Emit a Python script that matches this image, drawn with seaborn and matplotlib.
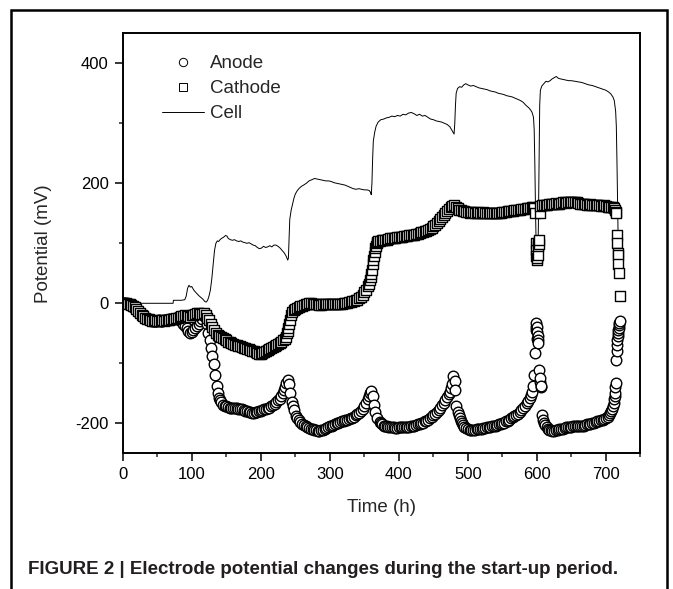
import numpy as np
import pandas as pd
import seaborn as sns
import matplotlib.pyplot as plt
from matplotlib.lines import Line2D
from matplotlib.patches import Rectangle
from matplotlib.ticker import MultipleLocator

sns.set_style("ticks")
plt.rcParams['font.family'] = ['Liberation Sans', 'DejaVu Sans']
plt.rcParams['axes.unicode_minus'] = False

# ---- data ----
anode_t = [0, 5, 10, 15, 20, 25, 30, 35, 40, 45, 50, 55, 60, 65, 70, 75, 80, 85, 90, 95,
           98, 100, 105, 110, 115, 118, 120, 122, 124, 126, 128, 130, 132, 134, 136, 138, 140,
           143, 146, 150, 155, 160, 165, 170, 175, 180, 185, 190, 195, 200, 205, 210, 215,
           220, 225, 230, 234, 237, 239, 241, 243, 245, 248, 251, 255, 260, 265, 270, 275,
           280, 285, 290, 295, 300, 305, 310, 315, 320, 325, 330, 335, 340, 345, 350, 355,
           358, 360, 362, 364, 366, 369, 372, 376, 380, 385, 390, 395, 400, 405, 410, 415,
           420, 425, 430, 435, 440, 445, 450, 455, 460, 465, 470, 474, 477, 479, 481, 482,
           483, 485, 488, 491, 495, 500, 505, 510, 515, 520, 525, 530, 535, 540, 545, 550,
           555, 560, 565, 570, 575, 580, 585, 590, 593, 595, 596, 597, 598, 599, 600, 601,
           602, 603, 604, 606, 607, 609, 612, 616, 620, 625, 630, 635, 640, 645, 650, 655,
           660, 665, 670, 675, 680, 685, 690, 695, 700, 705, 708, 710, 712, 713, 714, 715,
           716, 717, 718, 719, 720]
anode_mv = [0, 0, -2, -6, -11, -17, -22, -26, -28, -29, -29, -29, -28, -28, -27, -26, -26, -30,
            -38, -46, -50, -48, -42, -34, -26, -22, -24, -35, -50, -62, -75, -88, -102, -120,
            -138, -150, -158, -165, -170, -172, -174, -175, -175, -176, -178, -180, -182, -183,
            -181, -179, -177, -175, -172, -168, -162, -155, -145, -133, -128, -135, -150, -165,
            -178, -188, -195, -201, -205, -208, -210, -212, -213, -211, -208, -205, -203, -200,
            -198, -196, -194, -192, -189, -185, -180, -172, -160, -150, -147, -155, -170, -182,
            -192, -198, -202, -205, -206, -207, -208, -207, -207, -206, -206, -205, -203, -201,
            -199, -196, -192, -187, -181, -174, -166, -157, -148, -135, -122, -130, -145, -172,
            -182, -192, -200, -206, -210, -212, -211, -210, -209, -208, -206, -205, -204, -202,
            -200, -197, -194, -190, -186, -181, -175, -167, -158, -148, -138, -120, -83, -45,
            -33, -40, -55, -66, -112, -132, -138, -186, -195, -203, -209, -212, -213, -211,
            -209, -208, -207, -206, -205, -205, -204, -203, -202, -200, -198, -196, -194, -191,
            -186, -180, -172, -160, -150, -133, -94, -70, -55, -45, -37, -30]
# readings taken between the ones above
anode_t_mid = [2.5, 7.5, 12.5, 17.5, 22.5, 27.5, 32.5, 37.5, 42.5, 47.5, 52.5, 57.5, 62.5, 67.5,
               72.5, 77.5, 82.5, 87.5, 92.5, 102.5, 107.5, 112.5, 141.5, 148, 152.5, 157.5,
               162.5, 167.5, 172.5, 177.5, 182.5, 187.5, 192.5, 197.5, 202.5, 207.5, 212.5,
               217.5, 222.5, 227.5, 232, 235.5, 246.5, 253, 257.5, 262.5, 267.5, 272.5, 277.5,
               282.5, 287.5, 292.5, 297.5, 302.5, 307.5, 312.5, 317.5, 322.5, 327.5, 332.5,
               337.5, 342.5, 347.5, 352.5, 356.5, 374, 378, 382.5, 387.5, 392.5, 397.5, 402.5,
               407.5, 412.5, 417.5, 422.5, 427.5, 432.5, 437.5, 442.5, 447.5, 452.5, 457.5,
               462.5, 467.5, 472, 475.5, 486.5, 489.5, 493, 497.5, 502.5, 507.5, 512.5, 517.5,
               522.5, 527.5, 532.5, 537.5, 542.5, 547.5, 552.5, 557.5, 562.5, 567.5, 572.5,
               577.5, 582.5, 587.5, 591.5, 598.5, 599.5, 600.5, 601.5, 605, 605.5, 610.5, 614,
               618, 622.5, 627.5, 632.5, 637.5, 642.5, 647.5, 652.5, 657.5, 662.5, 667.5, 672.5,
               677.5, 682.5, 687.5, 692.5, 697.5, 702.5, 706.5, 709, 711, 712.5, 713.5, 715.5,
               716.5, 717.5, 718.5, 719.5]
anode_mv_mid = [0, -1, -4, -8, -14, -20, -24, -27, -29, -30, -28, -29, -28, -27, -27, -25, -28,
                -34, -42, -45, -38, -30, -162, -171, -173, -175, -174, -177, -177, -179, -181,
                -183, -182, -180, -178, -176, -174, -170, -165, -159, -150, -139, -172, -192,
                -198, -203, -207, -209, -211, -213, -212, -210, -206, -204, -202, -199, -197,
                -195, -193, -191, -187, -183, -176, -166, -155, -200, -204, -205, -207, -207,
                -208, -207, -206, -206, -205, -204, -202, -200, -197, -194, -190, -184, -178,
                -170, -162, -152, -142, -187, -196, -203, -208, -211, -212, -210, -210, -208,
                -207, -206, -204, -203, -201, -199, -196, -192, -188, -184, -178, -171, -163,
                -153, -39, -60, -48, -62, -125, -140, -200, -206, -211, -213, -212, -210, -209,
                -207, -207, -205, -205, -204, -204, -202, -201, -199, -197, -195, -193, -189,
                -183, -176, -166, -155, -140, -80, -62, -50, -41, -33]

cathode_t = [0, 5, 10, 15, 20, 25, 30, 35, 40, 45, 50, 55, 60, 65, 70, 75, 80, 85, 90, 95,
             100, 105, 110, 115, 120, 125, 130, 135, 140, 145, 150, 155, 160, 165, 170, 175,
             180, 185, 190, 195, 200, 205, 210, 215, 220, 225, 230, 235, 238, 240, 242, 245,
             250, 255, 260, 265, 270, 275, 280, 285, 290, 295, 300, 305, 310, 315, 320, 325,
             330, 335, 340, 345, 350, 355, 358, 360, 362, 364, 366, 368, 370, 375, 380, 385,
             390, 395, 400, 405, 410, 415, 420, 425, 430, 435, 440, 445, 450, 455, 460, 465,
             470, 475, 480, 485, 490, 495, 500, 505, 510, 515, 520, 525, 530, 535, 540, 545,
             550, 555, 560, 565, 570, 575, 580, 585, 590, 595, 597, 598, 599, 600, 601, 602,
             603, 604, 605, 610, 615, 620, 625, 630, 635, 640, 645, 650, 655, 660, 665, 670,
             675, 680, 685, 690, 695, 700, 705, 710, 713, 715, 716, 717, 718, 719, 720]
cathode_mv = [0, 0, -2, -5, -10, -16, -22, -26, -28, -29, -29, -28, -29, -28, -27, -26, -24,
              -22, -20, -22, -20, -18, -17, -18, -20, -28, -40, -50, -55, -58, -62, -65, -68,
              -70, -72, -74, -76, -78, -80, -83, -84, -82, -78, -75, -72, -68, -64, -60, -50,
              -42, -28, -14, -10, -6, -4, -2, 0, -1, -2, -3, -2, -1, -2, -1, -2, -1, 0, 1, 2, 4,
              6, 10, 18, 28, 38, 48, 65, 78, 92, 100, 103, 105, 106, 107, 108, 109, 110, 111,
              112, 113, 114, 115, 117, 119, 121, 124, 128, 134, 140, 147, 154, 160, 164, 158,
              155, 153, 152, 152, 151, 152, 151, 151, 150, 151, 151, 150, 152, 152, 153, 154,
              155, 156, 157, 158, 159, 161, 150, 100, 78, 72, 80, 95, 105, 150, 162, 163, 164,
              165, 166, 166, 167, 168, 168, 169, 168, 167, 166, 165, 164, 164, 163, 163, 162,
              162, 161, 160, 155, 150, 113, 84, 66, 50, 12]
cathode_t_mid = [2.5, 7.5, 12.5, 17.5, 22.5, 27.5, 32.5, 37.5, 42.5, 47.5, 52.5, 57.5, 62.5,
                 67.5, 72.5, 77.5, 82.5, 87.5, 92.5, 97.5, 102.5, 107.5, 112.5, 117.5, 122.5,
                 127.5, 132.5, 137.5, 142.5, 147.5, 152.5, 157.5, 162.5, 167.5, 172.5, 177.5,
                 182.5, 187.5, 192.5, 197.5, 202.5, 207.5, 212.5, 217.5, 222.5, 227.5, 232.5,
                 236.5, 239, 241, 243.5, 247.5, 252.5, 257.5, 262.5, 267.5, 272.5, 277.5, 282.5,
                 287.5, 292.5, 297.5, 302.5, 307.5, 312.5, 317.5, 322.5, 327.5, 332.5, 337.5,
                 342.5, 347.5, 352.5, 356.5, 359, 361, 363, 365, 367, 369, 372.5, 377.5, 382.5,
                 387.5, 392.5, 397.5, 402.5, 407.5, 412.5, 417.5, 422.5, 427.5, 432.5, 437.5,
                 442.5, 447.5, 452.5, 457.5, 462.5, 467.5, 472.5, 477.5, 482.5, 487.5, 492.5,
                 497.5, 502.5, 507.5, 512.5, 517.5, 522.5, 527.5, 532.5, 537.5, 542.5, 547.5,
                 552.5, 557.5, 562.5, 567.5, 572.5, 577.5, 582.5, 587.5, 592.5, 596, 598.5,
                 600.5, 601.5, 602.5, 607.5, 612.5, 617.5, 622.5, 627.5, 632.5, 637.5, 642.5,
                 647.5, 652.5, 657.5, 662.5, 667.5, 672.5, 677.5, 682.5, 687.5, 692.5, 697.5,
                 702.5, 707.5, 711.5, 714, 716.5, 717.5]
cathode_mv_mid = [0, -1, -3, -7, -13, -19, -24, -27, -29, -28, -30, -28, -28, -28, -26, -25,
                  -23, -21, -21, -23, -19, -17, -18, -17, -24, -34, -45, -53, -56, -60, -64,
                  -66, -69, -71, -73, -75, -77, -79, -82, -84, -83, -80, -77, -73, -70, -66,
                  -62, -56, -46, -35, -20, -12, -8, -5, -3, -1, 0, -2, -2, -3, -1, -2, -1, -2,
                  -1, -1, 0, 2, 3, 5, 8, 14, 22, 32, 43, 56, 72, 85, 96, 102, 104, 106, 106, 108,
                  108, 110, 110, 112, 112, 114, 114, 116, 118, 120, 122, 126, 131, 137, 144, 150,
                  157, 162, 161, 156, 154, 152, 151, 152, 150, 151, 152, 150, 151, 150, 151, 151,
                  152, 153, 153, 155, 155, 157, 157, 159, 160, 158, 88, 75, 100, 98, 163, 163,
                  165, 165, 167, 166, 168, 167, 169, 169, 168, 166, 166, 164, 165, 163, 164, 162,
                  163, 161, 161, 158, 152, 100, 80]

cell_t = [0, 10, 20, 30, 40, 50, 60, 70, 73, 73.5, 80, 85, 90, 92, 94, 96, 98, 100, 103, 106,
          110, 113, 116, 119, 121, 123, 125, 127, 129, 131, 133, 135, 137, 139, 141, 143, 146,
          149, 151, 153, 156, 159, 162, 165, 168, 171, 174, 177, 180, 183, 186, 189, 192, 195,
          198, 201, 204, 207, 210, 213, 216, 219, 222, 225, 228, 231, 234, 237, 239, 240, 241,
          242, 244, 246, 248, 250, 253, 256, 259, 262, 266, 270, 274, 278, 282, 286, 290, 294,
          298, 302, 306, 310, 314, 318, 322, 326, 330, 334, 338, 342, 346, 350, 354, 357, 359,
          360, 361, 362, 363, 365, 367, 370, 374, 378, 382, 386, 390, 394, 398, 402, 406, 410,
          414, 418, 422, 426, 430, 434, 438, 442, 446, 450, 454, 458, 462, 466, 470, 474, 477,
          479, 480, 481, 482, 483, 485, 488, 491, 494, 497, 500, 504, 508, 512, 516, 520, 524,
          528, 532, 536, 540, 544, 548, 552, 556, 560, 564, 568, 572, 576, 580, 584, 588, 591,
          593, 595, 596, 597, 598, 599, 600, 601, 602, 603, 604, 605, 607, 610, 613, 616, 619,
          622, 625, 628, 631, 634, 638, 642, 646, 650, 655, 660, 665, 670, 675, 680, 685, 690,
          695, 700, 704, 707, 710, 712, 714, 715, 716, 717, 718, 719]
cell_mv = [0, 0, 0, 0, 0, 0, 0, 0, 0, 5, 5, 5, 6, 12, 25, 30, 27, 28, 22, 18, 13, 10, 7, 3, 2,
           5, 12, 22, 40, 65, 88, 100, 104, 103, 106, 108, 110, 113, 112, 108, 106, 105, 106,
           104, 103, 104, 102, 101, 100, 101, 99, 97, 96, 93, 91, 92, 95, 93, 94, 96, 94, 97,
           97, 95, 92, 88, 84, 78, 72, 75, 110, 140, 155, 165, 175, 182, 188, 192, 195, 197,
           200, 204, 206, 208, 207, 206, 205, 204, 204, 203, 201, 200, 199, 198, 197, 195, 193,
           191, 190, 191, 190, 189, 189, 188, 185, 181, 200, 240, 270, 285, 295, 302, 306, 307,
           309, 310, 312, 311, 313, 312, 315, 314, 317, 318, 316, 313, 315, 312, 313, 310, 307,
           306, 304, 303, 302, 300, 298, 294, 288, 284, 282, 300, 330, 350, 358, 361, 360, 364,
           366, 364, 362, 363, 361, 359, 358, 357, 356, 354, 353, 352, 350, 349, 348, 346, 345,
           344, 342, 340, 338, 335, 330, 326, 322, 318, 310, 290, 230, 150, 90, 80, 85, 120,
           220, 330, 355, 362, 366, 370, 369, 371, 374, 376, 378, 375, 374, 373, 372, 371, 371,
           370, 369, 368, 366, 364, 363, 361, 359, 357, 355, 352, 349, 344, 338, 320, 295, 230,
           150, 80, 45]

anode = pd.DataFrame({'t': anode_t + anode_t_mid, 'mv': anode_mv + anode_mv_mid})
anode = anode.sort_values('t')
cathode = pd.DataFrame({'t': cathode_t + cathode_t_mid, 'mv': cathode_mv + cathode_mv_mid})
cathode = cathode.sort_values('t')
cell = pd.DataFrame({'t': cell_t, 'mv': cell_mv})

fig = plt.figure(figsize=(6.73, 5.89), dpi=100)
ax = fig.add_axes([0.1823, 0.2304, 0.7694, 0.7131])

sns.lineplot(data=cell, x='t', y='mv', ax=ax, color='black', linewidth=0.7, zorder=1)
sns.scatterplot(data=anode, x='t', y='mv', ax=ax, marker='o', s=58, facecolor='white',
                edgecolor='black', linewidth=1.0, zorder=2)
sns.scatterplot(data=cathode, x='t', y='mv', ax=ax, marker='s', s=44, facecolor='white',
                edgecolor='black', linewidth=1.0, zorder=3)

ax.set_xlim(0, 750)
ax.set_ylim(-250, 450)
ax.xaxis.set_major_locator(MultipleLocator(100))
ax.xaxis.set_minor_locator(MultipleLocator(50))
ax.yaxis.set_major_locator(MultipleLocator(200))
ax.yaxis.set_minor_locator(MultipleLocator(100))
ax.set_yticks([-200, 0, 200, 400])
ax.tick_params(which='major', direction='out', length=5.5, width=1.1, labelsize=12, pad=4.5,
               colors='black')
ax.tick_params(which='minor', direction='out', length=3, width=1.1)
for sp in ax.spines.values():
    sp.set_linewidth(1.4)
    sp.set_color('black')

ax.set_xlabel('Time (h)', fontsize=13.5, labelpad=12)
ax.set_ylabel('Potential (mV)', fontsize=13.5, labelpad=17)

handles = [
    Line2D([], [], marker='o', linestyle='none', markersize=6, markerfacecolor='white',
           markeredgecolor='black', markeredgewidth=0.7),
    Line2D([], [], marker='s', linestyle='none', markersize=5.5, markerfacecolor='white',
           markeredgecolor='black', markeredgewidth=0.7),
    Line2D([], [], color='black', linewidth=0.7),
]
fig.legend(handles, ['Anode', 'Cathode', 'Cell'], loc='upper left',
           bbox_to_anchor=(161.7 / 673, 1 - 55 / 589), frameon=False, fontsize=13.5,
           handlelength=2.25, handletextpad=0.3, labelspacing=0.42, borderpad=0,
           borderaxespad=0)

# caption and outer frame
fig.text(28 / 673, 1 - 570 / 589,
         'FIGURE 2 | Electrode potential changes during the start-up period.',
         fontsize=13.5, fontweight='bold', color='#231f20', ha='left', va='center')
fig.add_artist(Rectangle((11 / 673, -0.05), (667 - 11) / 673, 1.05 - 10 / 589,
                         transform=fig.transFigure, fill=False, edgecolor='black',
                         linewidth=1.8))

fig.savefig('out.png', dpi=100)
